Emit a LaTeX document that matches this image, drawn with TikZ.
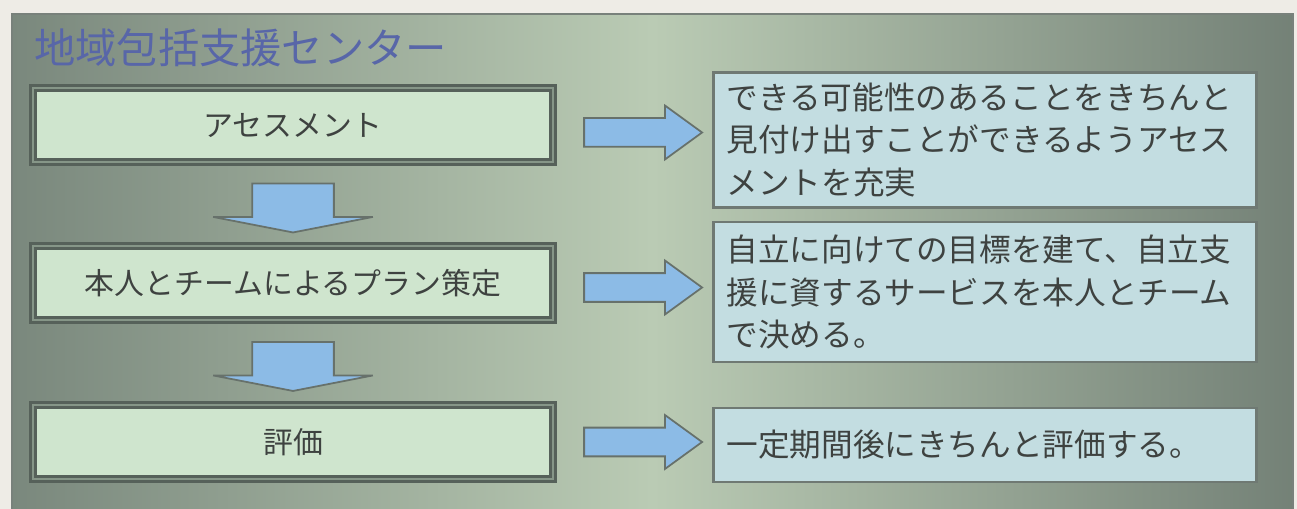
\documentclass[tikz,border=0pt]{standalone}
\usepackage{fontspec}
\setmainfont{Noto Sans CJK JP}
\usetikzlibrary{shapes.arrows,calc}

\definecolor{paper}{HTML}{EEECE6}
\definecolor{paneldark}{HTML}{7A887D}
\definecolor{panellight}{HTML}{BACBB4}
\definecolor{frame}{HTML}{56615A}
\definecolor{mint}{HTML}{CFE5CE}
\definecolor{pale}{HTML}{C3DDE1}
\definecolor{sky}{HTML}{8CBBE6}
\definecolor{titleblue}{HTML}{5866A8}
\definecolor{ink}{HTML}{3E4240}

\tikzset{
  leftbox/.style={draw=frame, line width=1.4pt, double=frame!60!mint, double distance=1.4pt,
    fill=mint, minimum width=10.4cm, minimum height=1.48cm, inner sep=0pt,
    font=\fontsize{17}{20}\selectfont, text=ink},
  notebox/.style={draw=frame!85, line width=1.5pt, fill=pale, minimum width=10.86cm,
    inner xsep=0.26cm, text width=10.34cm, align=left,
    font=\fontsize{18}{24}\selectfont, text=ink},
  rarrow/.style={single arrow, draw=frame!90, line width=1pt, fill=sky,
    inner xsep=0pt, inner ysep=0.27cm,
    minimum height=2.36cm, single arrow head extend=0.25cm,
    single arrow tip angle=72},
  darrow/.style={single arrow, draw=frame!90, line width=1pt, fill=sky,
    inner xsep=0pt, inner ysep=0.8cm, rotate=-90, minimum height=0.98cm,
    single arrow head extend=0.78cm, single arrow tip angle=158}
}

\begin{document}
\begin{tikzpicture}[x=0.02cm, y=-0.02cm]
\useasboundingbox (0,0) rectangle (1297,509);
% background panel
\fill [paper] (0,0) rectangle (1297,509);
\shade [left color=paneldark, right color=paneldark!95!black, middle color=panellight]
  (12,14) rectangle (1293,509);
\draw [frame!80, line width=1.5pt] (12,509) -- (12,14) -- (1293,14) -- (1293,509);
\node [anchor=west, text=titleblue, font=\fontsize{23.5}{26}\selectfont] (title) at (28,48) {地域包括支援センター};

% steps on the left
\node [leftbox] (assess) at (293,125) {アセスメント};
\node [leftbox] (plan) at (293,283) {本人とチームによるプラン策定};
\node [leftbox] (eval) at (293,442) {評価};

% notes on the right
\node [notebox, minimum height=2.7cm] (assessnote) at (985,140)
  {できる可能性のあることをきちんと\\見付け出すことができるようアセス\\メントを充実};
\node [notebox, minimum height=2.8cm] (plannote) at (985,292)
  {自立に向けての目標を建て、自立支\\援に資するサービスを本人とチーム\\で決める。};
\node [notebox, minimum height=1.48cm] (evalnote) at (985,445)
  {一定期間後にきちんと評価する。};

% block arrows
\node [rarrow] (ra) at ($(assess.east)!0.5!(assessnote.west)$) {};
\node [rarrow] (rb) at ($(plan.east)!0.5!(plannote.west)$) {};
\node [rarrow] (rc) at ($(eval.east)!0.5!(eval.east -| evalnote.west)$) {};
\node [darrow] (da) at ($(assess.south)!0.5!(plan.north)$) {};
\node [darrow] (db) at ($(plan.south)!0.5!(eval.north)$) {};
\end{tikzpicture}
\end{document}
